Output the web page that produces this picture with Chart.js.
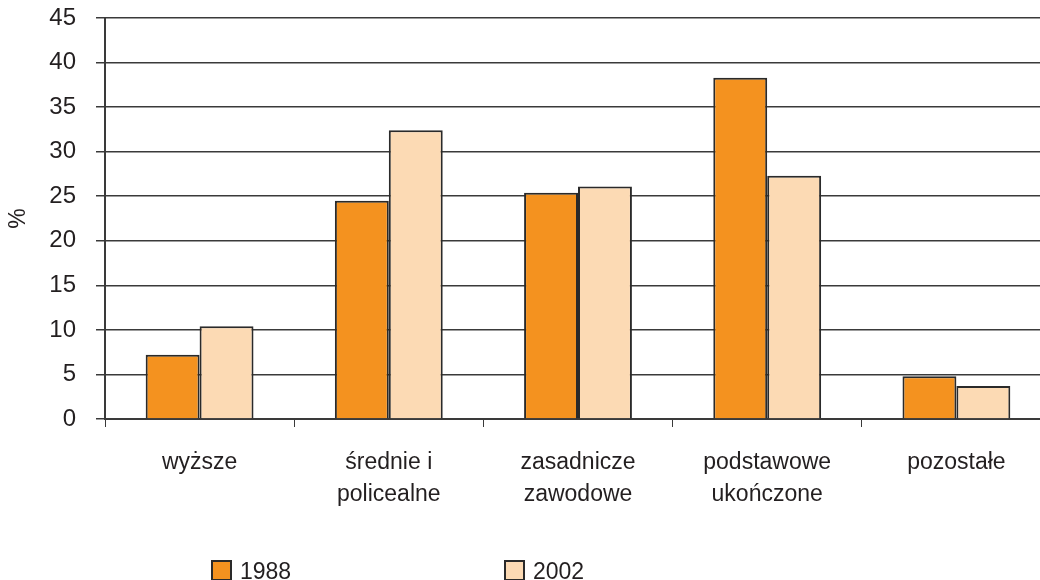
<!DOCTYPE html>
<html>
<head>
<meta charset="utf-8">
<script src="https://cdn.jsdelivr.net/npm/chart.js@4.4.1/dist/chart.umd.min.js"></script>
<style>
  html, body { margin: 0; padding: 0; background: #fff; overflow: hidden; }
  #clip { width: 1040px; height: 580px; overflow: hidden; }
  /* the plot runs a little past the right edge in the original */
  #wrap { width: 1051px; height: 580px; }
</style>
</head>
<body>
<div id="clip"><div id="wrap"><canvas id="chart"></canvas></div></div>
<script>
const categories = [['wyższe'], ['średnie i', 'policealne'], ['zasadnicze', 'zawodowe'], ['podstawowe', 'ukończone'], ['pozostałe']];
const values1988 = [7.2, 24.5, 25.4, 38.3, 4.8];
const values2002 = [10.4, 32.4, 26.1, 27.3, 3.7];
const seriesLabels = ['1988', '2002'];

const textColor = '#231f20';
const lineColor = '#3a3a3a';
const fontFamily = '"Liberation Sans", Arial, sans-serif';

// legend drawn by hand at the bottom, spaced like the original
const bottomLegend = {
    id: 'bottomLegend',
    afterDraw(chart) {
        const c = chart.ctx;
        const xs = [212, 505];
        c.save();
        chart.data.datasets.forEach(function (ds, i) {
            const x = xs[i];
            c.fillStyle = ds.backgroundColor;
            c.fillRect(x, 561, 19, 19);
            c.strokeStyle = ds.borderColor;
            c.lineWidth = 2;
            c.strokeRect(x, 561, 19, 19);
            c.fillStyle = textColor;
            c.font = '23px ' + fontFamily;
            c.textBaseline = 'middle';
            c.textAlign = 'left';
            c.fillText(ds.label, x + 28, 573);
        });
        c.restore();
    }
};

const ctx = document.getElementById('chart');
let mainChart = new Chart(ctx, {
    type: 'bar',
    data: {
        labels: categories,
        datasets: [
            {
                label: seriesLabels[0],
                data: values1988,
                backgroundColor: '#f4921f',
                borderColor: '#2a2a2a',
                borderWidth: 2,
            },
            {
                label: seriesLabels[1],
                data: values2002,
                backgroundColor: '#fcdab4',
                borderColor: '#2a2a2a',
                borderWidth: 2,
            }
        ]
    },
    options: {
        responsive: true,
        maintainAspectRatio: false,
        animation: false,
        layout: {
            padding: { top: 18, right: 0, bottom: 70, left: 0 }
        },
        datasets: {
            bar: {
                categoryPercentage: 0.57,
                barPercentage: 1.0,
            }
        },
        plugins: {
            legend: { display: false },
            tooltip: { enabled: false },
        },
        scales: {
            x: {
                grid: {
                    drawOnChartArea: false,
                    offset: true,
                    color: lineColor,
                    tickLength: 8,
                },
                border: { color: lineColor, width: 2 },
                ticks: {
                    color: textColor,
                    font: { family: fontFamily, size: 23, lineHeight: '32px' },
                    padding: 20,
                    maxRotation: 0,
                },
                afterFit(scale) {
                    scale.height = 91;
                    scale.paddingLeft = 0;
                    scale.paddingRight = 0;
                }
            },
            y: {
                min: 0,
                max: 45,
                grid: {
                    color: lineColor,
                    tickLength: 9,
                    lineWidth: 1.5,
                },
                border: { color: lineColor, width: 2 },
                ticks: {
                    stepSize: 5,
                    color: textColor,
                    font: { family: fontFamily, size: 24 },
                    padding: 20,
                },
                title: {
                    display: true,
                    text: '%',
                    color: textColor,
                    font: { family: fontFamily, size: 23 },
                    padding: { top: 5, bottom: 0 },
                },
                afterFit(scale) {
                    scale.width = 105;
                    scale.paddingTop = 0;
                    scale.paddingBottom = 0;
                }
            }
        }
    },
    plugins: [bottomLegend]
});
</script>
</body>
</html>
